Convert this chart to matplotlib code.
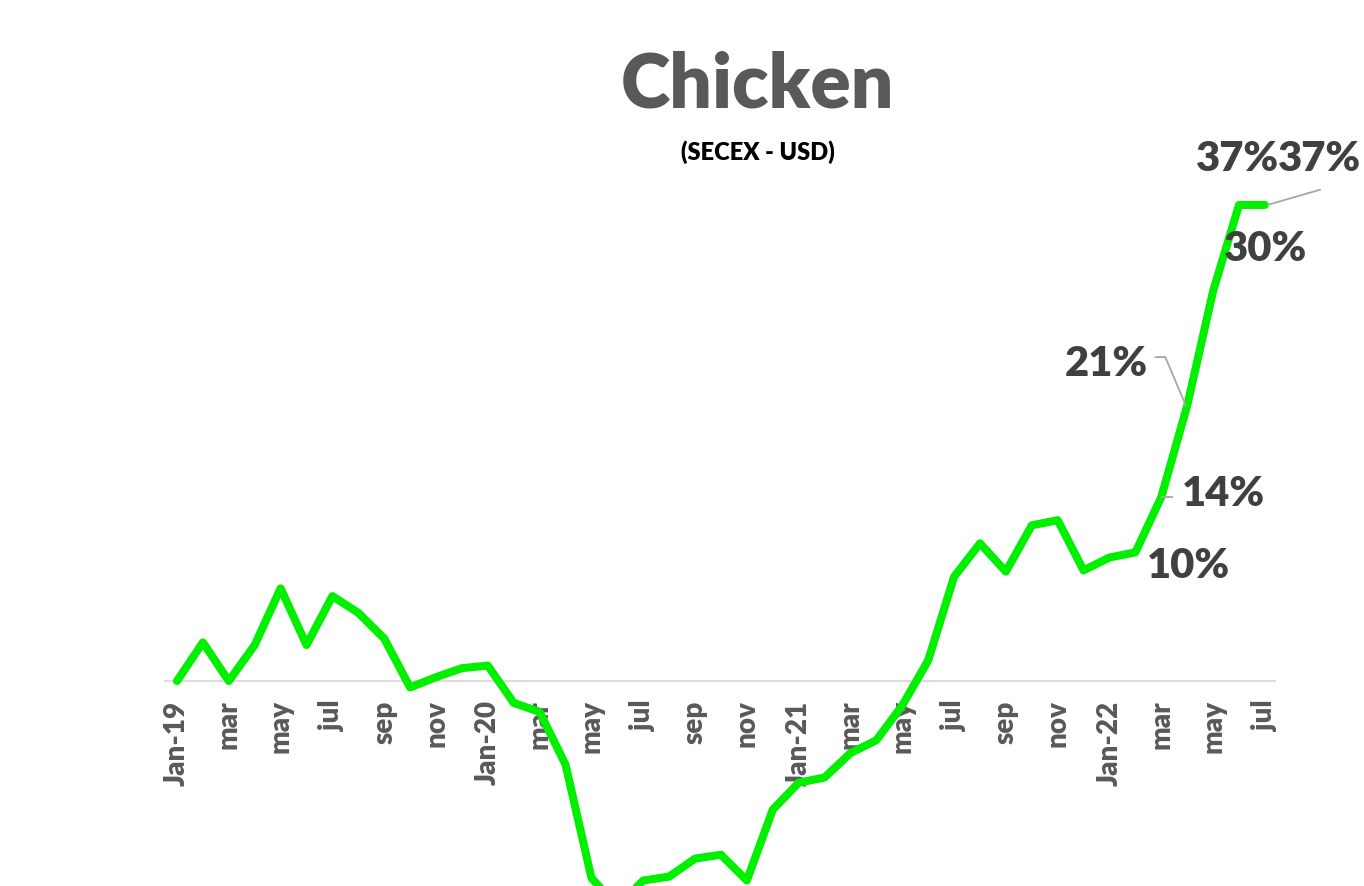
import numpy as np
import matplotlib.pyplot as plt

plt.rcParams['font.family'] = ['Lato', 'DejaVu Sans']

# monthly change, Jan-19 .. Jul-22 (%)
values = [0.0, 3.0, 0.0, 2.8, 7.2, 2.8, 6.6, 5.3, 3.3, -0.5, 0.3, 1.0,
          1.2, -1.7, -2.4, -6.5, -15.3, -17.5, -15.5, -15.2, -13.8, -13.5, -15.5, -10.0,
          -7.9, -7.5, -5.6, -4.6, -1.9, 1.6, 8.1, 10.7, 8.5, 12.1, 12.5, 8.6,
          9.6, 10.0, 14.3, 21.4, 30.3, 37.0, 37.0]
tick_labels = ['Jan-19', 'mar', 'may', 'jul', 'sep', 'nov',
               'Jan-20', 'mar', 'may', 'jul', 'sep', 'nov',
               'Jan-21', 'mar', 'may', 'jul', 'sep', 'nov',
               'Jan-22', 'mar', 'may', 'jul']
# data labels only on the last six months
labelled = [37, 38, 39, 40, 41, 42]

x = np.arange(len(values))

fig = plt.figure(figsize=(13.64, 8.86), dpi=100)
ax = fig.add_axes([165 / 1364, 0, 1110 / 1364, 736 / 886])

ax.plot(x, values, color='#00f000', lw=5.8, solid_capstyle='round',
        solid_joinstyle='round', zorder=3, clip_on=False)

ax.set_xlim(-0.463, 42.39)
ax.set_ylim(-15.93, 41.27)

for s in ['top', 'right', 'left']:
    ax.spines[s].set_visible(False)
ax.spines['bottom'].set_position(('data', 0))
ax.spines['bottom'].set_color('#d9d9d9')
ax.spines['bottom'].set_linewidth(1.3)
ax.set_yticks([])
ax.set_xticks(x[::2])
ax.set_xticklabels(tick_labels, rotation=90, fontsize=20, fontweight='heavy',
                   color='#595959')
ax.tick_params(axis='x', length=0, pad=14)

# label placement (offset in points)
offsets = {37: (38, -10), 38: (45, 2), 39: (-58, 30), 40: (38, 30),
           41: (-1, 33), 42: (39, 33)}
for i in labelled:
    dx, dy = offsets[i]
    ax.annotate(f'{values[i]:.0f}%', (x[i], values[i]), xytext=(dx, dy),
                textcoords='offset points', ha='center', va='center',
                fontsize=30, fontweight='heavy', color='#404040', zorder=4,
                annotation_clip=False)

# leader lines (grey)
grey = dict(arrowstyle='-', color='#a6a6a6', lw=1.3, shrinkA=0, shrinkB=0)
ax.annotate('', (x[42] + 0.1, values[42]), xytext=(38, 11), textcoords='offset points',
            arrowprops=grey, annotation_clip=False)
ax.annotate('', (x[39] - 0.05, values[39]), xytext=(-22, 35), textcoords='offset points',
            arrowprops=dict(grey, connectionstyle='angle,angleA=0,angleB=113,rad=0'),
            annotation_clip=False)
ax.annotate('', (x[38], values[38]), xytext=(8, 0), textcoords='offset points',
            arrowprops=grey, annotation_clip=False)

fig.text(758 / 1364, 1 - 85 / 886, 'Chicken', ha='center', va='center',
         fontsize=54, fontweight='heavy', color='#595959')
fig.text(758 / 1364, 1 - 152 / 886, '(SECEX - USD)', ha='center', va='center',
         fontsize=17, fontweight='heavy', color='black')

fig.savefig('out.png', dpi=100)
